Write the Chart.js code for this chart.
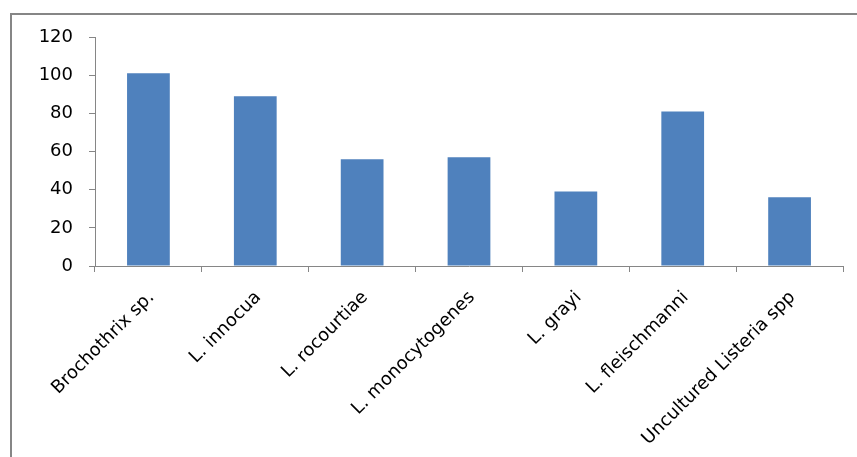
<!DOCTYPE html>
<html lang="en">
<head>
    <meta charset="UTF-8">
    <title>Listeria species bar chart</title>
    <style>
        * {
            padding: 0;
            margin: 0;
            box-sizing: border-box;
        }

        body {
            background: #ffffff;
            width: 857px;
            height: 457px;
            overflow: hidden;
        }

        #chart {
            display: block;
        }
    </style>
</head>
<body>
    <canvas id="chart" width="857" height="457"></canvas>
    <script src="https://cdn.jsdelivr.net/npm/chart.js@4/dist/chart.umd.min.js"></script>
    <script>
        const species = ["Brochothrix sp.", "L. innocua", "L. rocourtiae", "L. monocytogenes", "L. grayi", "L. fleischmanni", "Uncultured Listeria spp"];
        const counts = [101, 89, 56, 57, 39, 81, 36];
        const yTicks = [0, 20, 40, 60, 80, 100, 120];

        const axisGrey = "#868686";
        const font = { family: "'DejaVu Sans', sans-serif", size: 18 };

        // outer frame of the chart, cut off at the right and bottom like the original
        const framePlugin = {
            id: "frame",
            beforeDraw(chart) {
                const ctx = chart.ctx;
                ctx.save();
                ctx.strokeStyle = axisGrey;
                ctx.lineWidth = 2;
                ctx.beginPath();
                ctx.moveTo(857, 14);
                ctx.lineTo(11, 14);
                ctx.lineTo(11, 457);
                ctx.stroke();
                ctx.restore();
            },
        };

        new Chart(document.getElementById("chart"), {
            type: "bar",
            plugins: [framePlugin],
            data: {
                labels: species,
                datasets: [{
                    data: counts,
                    backgroundColor: "#4F81BD",
                    borderWidth: 0,
                    categoryPercentage: 1,
                    barPercentage: 0.4,
                }],
            },
            options: {
                responsive: false,
                animation: false,
                layout: { padding: { left: 0, top: 37, right: 14, bottom: 0 } },
                plugins: {
                    legend: { display: false },
                    tooltip: { enabled: false },
                },
                scales: {
                    x: {
                        afterFit: (scale) => { scale.height = 191; },
                        grid: {
                            offset: true,
                            drawOnChartArea: false,
                            drawTicks: true,
                            tickLength: 6,
                            color: axisGrey,
                        },
                        border: { color: axisGrey, width: 1 },
                        ticks: {
                            color: "#000000",
                            font: font,
                            maxRotation: 45,
                            minRotation: 45,
                            autoSkip: false,
                            padding: 15,
                            labelOffset: 3,
                        },
                    },
                    y: {
                        min: 0,
                        max: 120,
                        afterFit: (scale) => { scale.width = 95; },
                        afterBuildTicks: (scale) => {
                            scale.ticks = yTicks.map((v) => ({ value: v }));
                        },
                        grid: {
                            drawOnChartArea: false,
                            drawTicks: true,
                            tickLength: 6,
                            color: axisGrey,
                        },
                        border: { color: axisGrey, width: 1 },
                        ticks: {
                            color: "#000000",
                            font: font,
                            padding: 16,
                        },
                    },
                },
            },
        });
    </script>
</body>
</html>
